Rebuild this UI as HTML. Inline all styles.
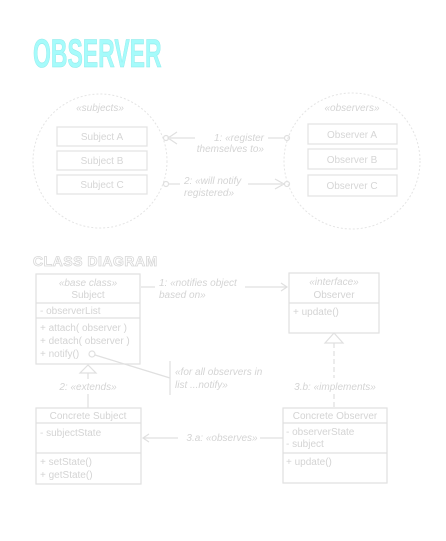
<!DOCTYPE html>
<html><head><meta charset="utf-8"><style>
html,body{margin:0;padding:0;background:#fff;}
svg{display:block;}
text{font-family:"Liberation Sans",sans-serif;}
</style></head><body>
<svg width="446" height="541" viewBox="0 0 446 541" xmlns="http://www.w3.org/2000/svg">
<rect width="446" height="541" fill="#fff"/>
<text x="33" y="67" font-size="40" font-weight="bold" fill="#a6fbfb" stroke="#8eeaea" stroke-width="0.6" transform="translate(33,0) scale(0.575,1) translate(-33,0)" style="font-family:'Liberation Sans Narrow','Liberation Sans',sans-serif">OBSERVER</text>

<g fill="none" stroke="#e4e4e4" stroke-dasharray="2,2">
<circle cx="100" cy="161" r="67"/>
<circle cx="352" cy="161" r="68"/>
</g>
<g font-size="10" font-style="italic" fill="#d4d4d4" text-anchor="middle">
<text x="100" y="111">«subjects»</text>
<text x="352" y="111">«observers»</text>
</g>
<g fill="none" stroke="#e2e2e2" stroke-width="1.2">
<rect x="57" y="127" width="90" height="19"/>
<rect x="57" y="151" width="90" height="19"/>
<rect x="57" y="175" width="90" height="19"/>
<rect x="308" y="124" width="89" height="20"/>
<rect x="308" y="149" width="89" height="20"/>
<rect x="308" y="175" width="89" height="21"/>
</g>
<g font-size="10" fill="#d6d6d6" text-anchor="middle">
<text x="102" y="140">Subject A</text>
<text x="102" y="164">Subject B</text>
<text x="102" y="188">Subject C</text>
<text x="352" y="138">Observer A</text>
<text x="352" y="163">Observer B</text>
<text x="352" y="189">Observer C</text>
</g>
<g fill="none" stroke="#e0e0e0" stroke-width="1.2">
<line x1="170" y1="138" x2="195" y2="138"/>
<polyline points="177,132 168,138 177,144"/>
<circle cx="166" cy="138" r="2.5"/>
<line x1="268" y1="138" x2="284" y2="138"/>
<circle cx="287" cy="138" r="2.5"/>
<circle cx="166" cy="184" r="2.5"/>
<line x1="169" y1="184" x2="180" y2="184"/>
<line x1="248" y1="184" x2="282" y2="184"/>
<polyline points="275,179 284,184 275,189"/>
<circle cx="287" cy="184" r="2.5"/>
</g>
<g font-size="10" font-style="italic" fill="#d4d4d4">
<text x="264" y="141" text-anchor="end">1: «register</text>
<text x="264" y="152" text-anchor="end">themselves to»</text>
<text x="184" y="184">2: «will notify</text>
<text x="184" y="196">registered»</text>
</g>

<text x="33" y="266" font-size="14" font-weight="bold" fill="#fff" stroke="#d8d8d8" stroke-width="0.8" letter-spacing="0.5">CLASS DIAGRAM</text>

<g fill="none" stroke="#e0e0e0" stroke-width="1.2">
<rect x="36" y="274" width="104" height="90"/>
<line x1="36" y1="303" x2="140" y2="303"/>
<line x1="36" y1="318" x2="140" y2="318"/>
<rect x="289" y="273" width="90" height="60"/>
<line x1="289" y1="303" x2="379" y2="303"/>
<rect x="36" y="408" width="105" height="76"/>
<line x1="36" y1="423" x2="141" y2="423"/>
<line x1="36" y1="453" x2="141" y2="453"/>
<rect x="283" y="408" width="104" height="75"/>
<line x1="283" y1="423" x2="387" y2="423"/>
<line x1="283" y1="453" x2="387" y2="453"/>
<line x1="141" y1="287" x2="155" y2="287"/>
<line x1="245" y1="287" x2="287" y2="287"/>
<polyline points="281,283 287,287 281,291"/>
<polygon points="88,365 80,373 96,373"/>
<line x1="88" y1="373" x2="88" y2="379"/>
<line x1="88" y1="394" x2="88" y2="408"/>
<circle cx="92" cy="354" r="3"/>
<line x1="95" y1="355" x2="170" y2="378"/>
<line x1="170" y1="361" x2="170" y2="395"/>
<polygon points="334,333 325,343 343,343"/>
<line x1="334" y1="343" x2="334" y2="378" stroke-dasharray="5,3"/>
<line x1="334" y1="394" x2="334" y2="408" stroke-dasharray="5,3"/>
<line x1="143" y1="438" x2="178" y2="438"/>
<polyline points="149,434 143,438 149,442"/>
<line x1="260" y1="438" x2="283" y2="438"/>
</g>
<g font-size="10" fill="#d4d4d4">
<text x="88" y="286" text-anchor="middle" font-style="italic">«base class»</text>
<text x="88" y="298" text-anchor="middle">Subject</text>
<text x="40" y="314">- observerList</text>
<text x="40" y="331">+ attach( observer )</text>
<text x="40" y="344">+ detach( observer )</text>
<text x="40" y="357">+ notify()</text>
<text x="334" y="285" text-anchor="middle" font-style="italic">«interface»</text>
<text x="334" y="298" text-anchor="middle">Observer</text>
<text x="293" y="315">+ update()</text>
<text x="88" y="419" text-anchor="middle">Concrete Subject</text>
<text x="40" y="436">- subjectState</text>
<text x="40" y="465">+ setState()</text>
<text x="40" y="478">+ getState()</text>
<text x="335" y="419" text-anchor="middle">Concrete Observer</text>
<text x="286" y="435">- observerState</text>
<text x="286" y="447">- subject</text>
<text x="286" y="465">+ update()</text>
</g>
<g font-size="10" font-style="italic" fill="#d4d4d4">
<text x="159" y="286">1: «notifies object</text>
<text x="159" y="298">based on»</text>
<text x="88" y="390" text-anchor="middle">2: «extends»</text>
<text x="175" y="375">«for all observers in</text>
<text x="175" y="388">list ...notify»</text>
<text x="335" y="390" text-anchor="middle">3.b: «implements»</text>
<text x="222" y="441" text-anchor="middle">3.a: «observes»</text>
</g>
</svg>
</body></html>
